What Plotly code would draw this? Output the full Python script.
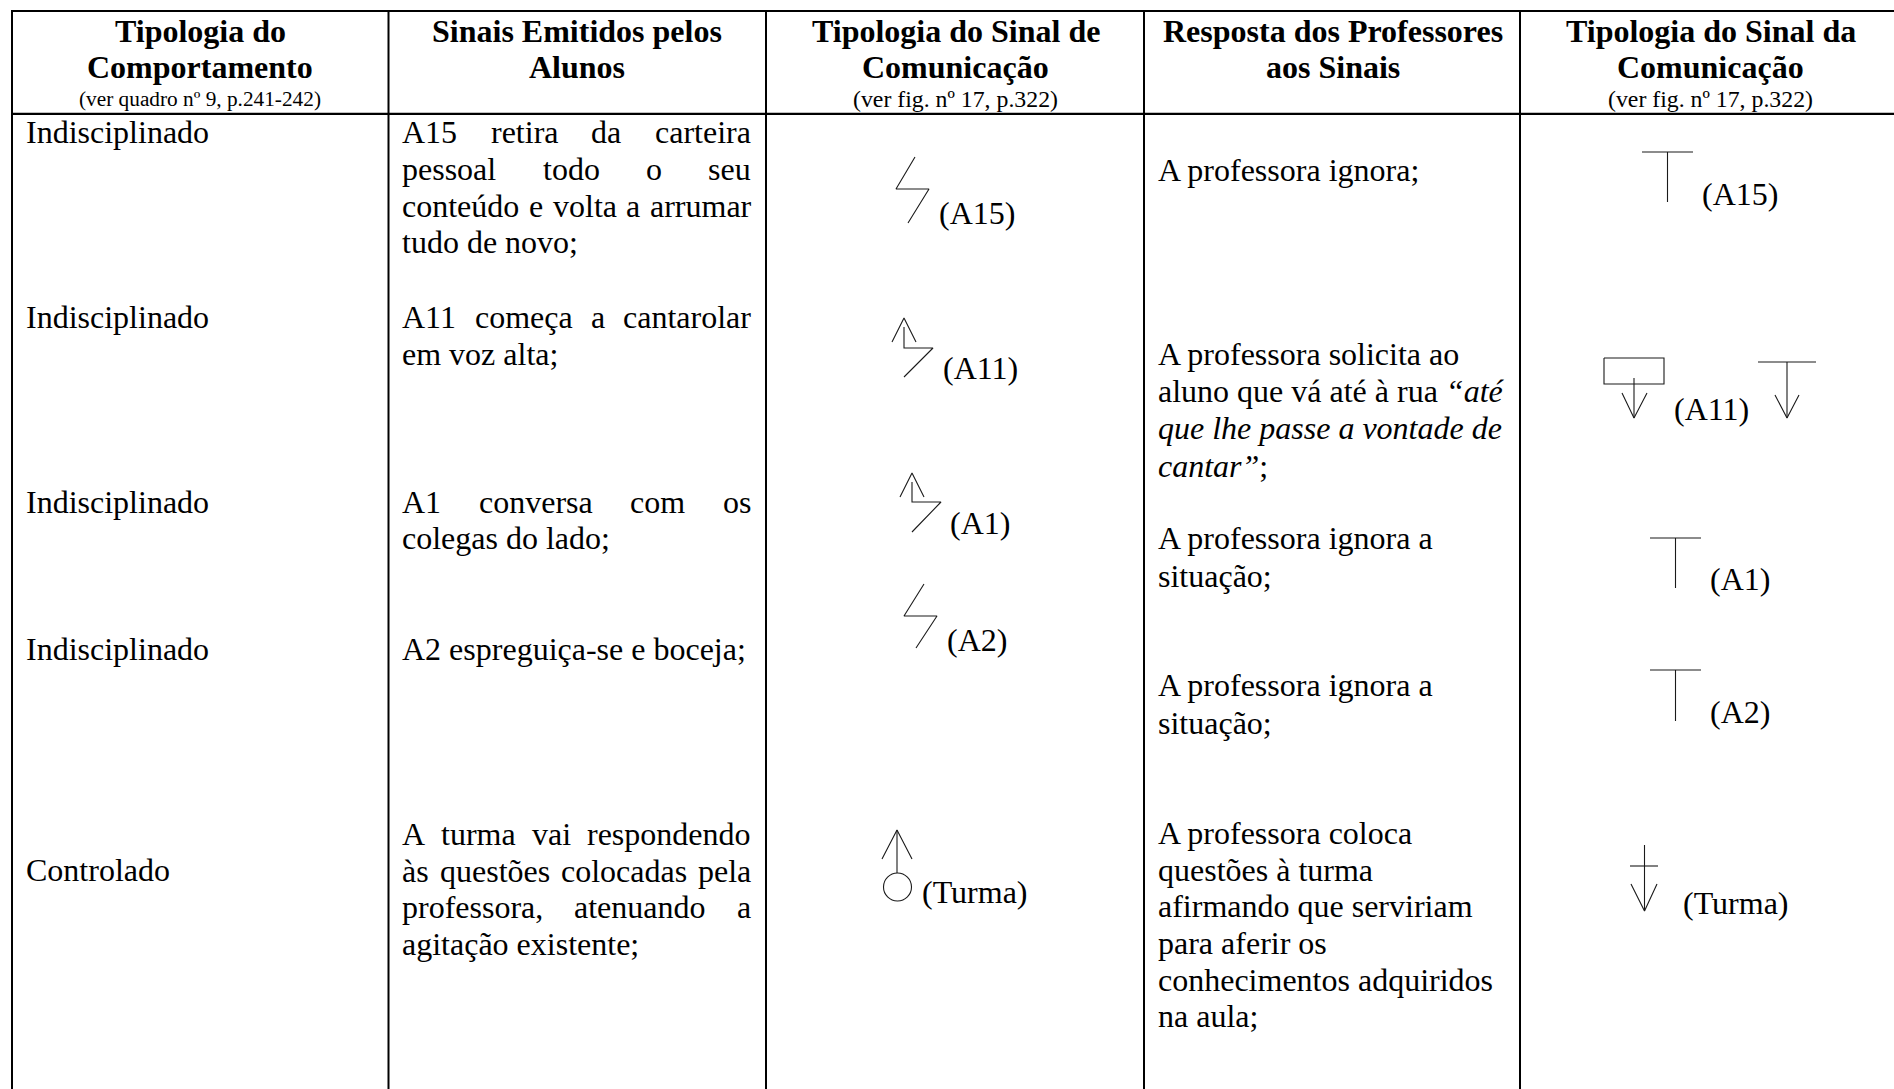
import plotly.graph_objects as go

W, H = 1894, 1089
FONT = "Liberation Serif"
BODY = 32
TEXT_DY = -1

# ---------- content ----------
headers = [
    ["Tipologia do", "Comportamento"],
    ["Sinais Emitidos pelos", "Alunos"],
    ["Tipologia do Sinal de", "Comunicação"],
    ["Resposta dos Professores", "aos Sinais"],
    ["Tipologia do Sinal da", "Comunicação"],
]
header_notes = ["(ver quadro nº 9, p.241-242)", "", "(ver fig. nº 17, p.322)", "", "(ver fig. nº 17, p.322)"]
note_sizes = [21.3, 21.3, 23.8, 21.3, 23.8]

behaviours = ["Indisciplinado", "Indisciplinado", "Indisciplinado", "Indisciplinado", "Controlado"]
behaviour_y = [133, 318, 502.5, 650, 871]

# text, justified?, y
signals = [
    ("A15 retira da carteira", True, 133),
    ("pessoal todo o seu", True, 170),
    ("conteúdo e volta a arrumar", True, 207),
    ("tudo de novo;", False, 243),
    ("A11 começa a cantarolar", True, 318),
    ("em voz alta;", False, 355),
    ("A1 conversa com os", True, 502.5),
    ("colegas do lado;", False, 539),
    ("A2 espreguiça-se e boceja;", False, 650),
    ("A turma vai respondendo", True, 835),
    ("às questões colocadas pela", True, 872),
    ("professora, atenuando a", True, 908),
    ("agitação existente;", False, 945),
]

responses = [
    ("A professora ignora;", 171),
    ("A professora solicita ao", 355),
    ("aluno que vá até à rua <i>“até</i>", 391.5),
    ("<i>que lhe passe a vontade de</i>", 429),
    ("<i>cantar”</i>;", 467),
    ("A professora ignora a", 539),
    ("situação;", 577),
    ("A professora ignora a", 686),
    ("situação;", 723.5),
    ("A professora coloca", 833.5),
    ("questões à turma", 871),
    ("afirmando que serviriam", 907),
    ("para aferir os", 943.5),
    ("conhecimentos adquiridos", 981),
    ("na aula;", 1017),
]

# label, left x, centre y
sign_labels = [
    ("(A15)", 939, 214), ("(A11)", 943, 369), ("(A1)", 950, 524), ("(A2)", 947, 641), ("(Turma)", 922, 893),
    ("(A15)", 1702, 195), ("(A11)", 1674, 410), ("(A1)", 1710, 580), ("(A2)", 1710, 713), ("(Turma)", 1683, 904),
]

# communication signs: polylines (x list, y list) in page pixels of the reference
sign_strokes = [
    # A15 student
    ([915, 896, 929, 908], [157, 189, 189, 223]),
    # A15 teacher
    ([1642, 1693], [152, 152]), ([1667.5, 1667.5], [152, 202]),
    # A11 student
    ([892, 904, 916], [342, 318, 342]), ([904, 904, 933, 904], [327, 348, 348, 377]),
    # A11 teacher
    ([1604, 1664, 1664, 1604, 1604], [358, 358, 384, 384, 358]), ([1634, 1634], [378, 418]),
    ([1622, 1634, 1647], [393, 418, 393]),
    ([1758, 1816], [362, 362]), ([1787, 1787], [362, 418]), ([1775, 1787, 1799], [395, 418, 395]),
    # A1 student
    ([900, 912, 924], [497, 473, 497]), ([912, 912, 941, 912], [482, 502, 502, 532]),
    # A1 teacher
    ([1650, 1701], [538, 538]), ([1675.5, 1675.5], [538, 588]),
    # A2 student
    ([924, 904, 937, 916], [584, 616, 616, 648]),
    # A2 teacher
    ([1650, 1701], [670, 670]), ([1675.5, 1675.5], [670, 721]),
    # Turma student
    ([882, 897, 912], [859, 830, 859]), ([897, 897], [830, 873]),
    # Turma teacher
    ([1644.5, 1644.5], [845, 911]), ([1630, 1658], [866, 866]), ([1631, 1644.5, 1657], [884, 911, 884]),
]
turma_circle = (897.5, 887, 14)

# ---------- layout constants ----------
col_lines = [12, 388.5, 766, 1144, 1520]
col_centres = [200, 577, 955.5, 1333, 1710.5]
top_y, header_y = 11, 113.8
col1_x, col2_l, col2_r, col4_x = 26, 402, 751, 1158

header_line_y = [31.5, 68]
note_y = 100

# Times advance widths (1/1000 em) for justification
widths = {
    "A": 722, "a": 444, "b": 500, "c": 444, "ç": 444, "d": 500, "e": 444, "f": 333, "g": 500, "h": 500,
    "i": 278, "j": 278, "l": 278, "m": 778, "n": 500, "o": 500, "p": 500, "q": 500, "r": 333, "s": 389,
    "t": 278, "u": 500, "ú": 500, "v": 500, "z": 444, "ã": 444, "à": 444, "õ": 500, "1": 500, "5": 500,
    ",": 250, ";": 278, "-": 333,
}


def word_w(word):
    return sum(widths.get(c, 500) for c in word) * BODY / 1000


fig = go.Figure()


def text(t, x, y, anchor="left", size=BODY):
    fig.add_annotation(
        x=x, y=y + TEXT_DY, text=t, showarrow=False, xanchor=anchor, yanchor="middle",
        xref="x", yref="y", align=anchor, borderpad=0, borderwidth=0,
        font=dict(family=FONT, size=size, color="#000000"),
    )


def stroke(xs, ys, width=1.1, color="#1a1a1a"):
    fig.add_trace(go.Scatter(x=xs, y=ys, mode="lines", hoverinfo="skip", showlegend=False,
                             line=dict(color=color, width=width, simplify=False), cliponaxis=False))


# table grid
for x in col_lines:
    stroke([x, x], [top_y, H], width=2, color="#000000")
stroke([col_lines[0] - 1, W], [top_y, top_y], width=2.2, color="#000000")
stroke([col_lines[0] - 1, W], [header_y, header_y], width=2.2, color="#000000")

# signs
for xs, ys in sign_strokes:
    stroke(xs, ys)
cx, cy, r = turma_circle
fig.add_shape(type="circle", x0=cx - r, x1=cx + r, y0=cy - r, y1=cy + r, xref="x", yref="y",
              line=dict(color="#1a1a1a", width=1.1))

# header
for lines, note, size, c in zip(headers, header_notes, note_sizes, col_centres):
    for t, y in zip(lines, header_line_y):
        text(f"<b>{t}</b>", c, y, "center")
    if note:
        text(note, c, note_y, "center", size)

# body
for t, y in zip(behaviours, behaviour_y):
    text(t, col1_x, y)

for t, just, y in signals:
    if not just:
        text(t, col2_l, y)
        continue
    words = t.split(" ")
    gap = (col2_r - col2_l - sum(word_w(w) for w in words)) / (len(words) - 1)
    x = col2_l
    for w in words:
        text(w, x, y)
        x += word_w(w) + gap

for t, y in responses:
    text(t, col4_x, y)

for t, x, y in sign_labels:
    text(t, x, y)

fig.update_layout(
    width=W, height=H, autosize=False,
    margin=dict(l=0, r=0, t=0, b=0, pad=0),
    paper_bgcolor="white", plot_bgcolor="white", showlegend=False,
    xaxis=dict(range=[0, W], visible=False, fixedrange=True),
    yaxis=dict(range=[H, 0], visible=False, fixedrange=True),
)
fig.write_html(
    "out.html",
    config={"displayModeBar": False},
    post_script="document.body.style.margin='0';document.documentElement.style.overflow='hidden';",
)
